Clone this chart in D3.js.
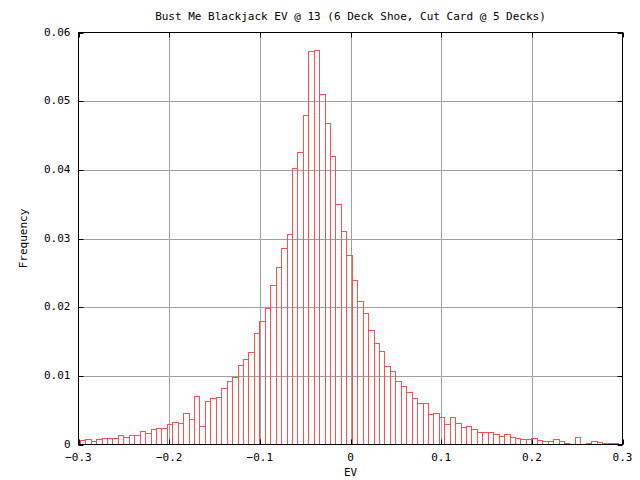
<!DOCTYPE html>
<html>
<head>
<meta charset="utf-8">
<script src="https://cdn.jsdelivr.net/npm/d3@7"></script>
<style>
  body { margin: 0; background: #fff; }
  text { font-family: "DejaVu Sans Mono", monospace; font-size: 11px; fill: #000; }
</style>
</head>
<body>
<svg></svg>
<script>
var width = 640;
var height = 480;

var margin = { left: 78.5, top: 32.5, right: 17.5, bottom: 35.5 };

var title = "Bust Me Blackjack EV @ 13 (6 Deck Shoe, Cut Card @ 5 Decks)";
var xLabel = "EV";
var yLabel = "Frequency";

var xTicks = [-0.3, -0.2, -0.1, 0, 0.1, 0.2, 0.3];
var yTicks = [0, 0.01, 0.02, 0.03, 0.04, 0.05, 0.06];

// histogram bins: left edge of first bin and bin width
var binStart = -0.298;
var binWidth = 0.006;

// frequency per bin
var freq = [
  0.0006, 0.0007, 0.0004, 0.00067, 0.00087, 0.00087, 0.00087, 0.00125, 0.001, 0.0013,
  0.0013, 0.0019, 0.0016, 0.0022, 0.0023, 0.0023, 0.0029, 0.0032, 0.0031, 0.0045,
  0.0036, 0.0070, 0.0026, 0.0063, 0.0067, 0.0068, 0.00815, 0.0092, 0.00976, 0.0115,
  0.0124, 0.0134, 0.0162, 0.0179, 0.0198, 0.0231, 0.0258, 0.0285, 0.0306, 0.0402,
  0.0425, 0.0479, 0.0572, 0.0574, 0.0510, 0.0467, 0.0419, 0.0350, 0.0310, 0.0275,
  0.0239, 0.0208, 0.0191, 0.0166, 0.0147, 0.0135, 0.0114, 0.0106, 0.0092, 0.0085,
  0.0076, 0.0067, 0.0060, 0.0060, 0.0044, 0.0045, 0.0039, 0.0029, 0.0039, 0.0031,
  0.0025, 0.0026, 0.0022, 0.00175, 0.00175, 0.00175, 0.0015, 0.00117, 0.0015, 0.00102,
  0.00087, 0.00073, 0.00073, 0.00087, 0.00058, 0.00044, 0.00044, 0.00073, 0.00044, 0.0002,
  0, 0.00102, 0, 0.0002, 0.00044, 0.00035, 0.0002, 0.0002, 0.0002
];

var data = freq.map(function(f, i) {
  return { x0: binStart + i * binWidth, x1: binStart + (i + 1) * binWidth, f: f };
});

var svg = d3.select("svg")
  .attr("width", width)
  .attr("height", height);

var x = d3.scaleLinear()
  .domain([-0.3, 0.3])
  .range([margin.left, width - margin.right]);

var y = d3.scaleLinear()
  .domain([0, 0.06])
  .range([height - margin.bottom, margin.top]);

// grid
svg.append("g")
  .selectAll("line")
  .data(xTicks.slice(1, -1))
  .enter().append("line")
  .attr("x1", d => Math.round(x(d)) + 0.5).attr("x2", d => Math.round(x(d)) + 0.5)
  .attr("y1", y(0)).attr("y2", y(0.06))
  .attr("stroke", "#a0a0a0");

svg.append("g")
  .selectAll("line")
  .data(yTicks.slice(1, -1))
  .enter().append("line")
  .attr("y1", d => Math.round(y(d)) + 0.5).attr("y2", d => Math.round(y(d)) + 0.5)
  .attr("x1", x(-0.3)).attr("x2", x(0.3))
  .attr("stroke", "#a0a0a0");

// bars
svg.append("g")
  .selectAll("rect")
  .data(data.filter(d => d.f > 0))
  .enter().append("rect")
  .attr("x", d => x(d.x0))
  .attr("width", d => x(d.x1) - x(d.x0))
  .attr("y", d => y(d.f))
  .attr("height", d => y(0) - y(d.f))
  .attr("fill", "none")
  .attr("stroke", "#ff5050")
  .attr("shape-rendering", "crispEdges");

// frame
svg.append("rect")
  .attr("x", x(-0.3)).attr("y", y(0.06))
  .attr("width", x(0.3) - x(-0.3)).attr("height", y(0) - y(0.06))
  .attr("fill", "none").attr("stroke", "#000");

// tick marks (inside, mirrored)
var tickLen = 5;
var xt = svg.append("g").selectAll("g").data(xTicks).enter().append("g");
xt.append("line")
  .attr("x1", d => Math.round(x(d)) + 0.5).attr("x2", d => Math.round(x(d)) + 0.5)
  .attr("y1", y(0)).attr("y2", y(0) - tickLen).attr("stroke", "#000");
xt.append("line")
  .attr("x1", d => Math.round(x(d)) + 0.5).attr("x2", d => Math.round(x(d)) + 0.5)
  .attr("y1", y(0.06)).attr("y2", y(0.06) + tickLen).attr("stroke", "#000");
xt.append("text")
  .attr("x", d => x(d))
  .attr("y", y(0) + 16)
  .attr("text-anchor", "middle")
  .text(d => d3.format("")(d));

var yt = svg.append("g").selectAll("g").data(yTicks).enter().append("g");
yt.append("line")
  .attr("y1", d => Math.round(y(d)) + 0.5).attr("y2", d => Math.round(y(d)) + 0.5)
  .attr("x1", x(-0.3)).attr("x2", x(-0.3) + tickLen).attr("stroke", "#000");
yt.append("line")
  .attr("y1", d => Math.round(y(d)) + 0.5).attr("y2", d => Math.round(y(d)) + 0.5)
  .attr("x1", x(0.3)).attr("x2", x(0.3) - tickLen).attr("stroke", "#000");
yt.append("text")
  .attr("x", x(-0.3) - 8)
  .attr("y", d => y(d) + 3)
  .attr("text-anchor", "end")
  .text(d => d3.format("")(d));

// titles
svg.append("text")
  .attr("x", (x(-0.3) + x(0.3)) / 2)
  .attr("y", 20)
  .attr("text-anchor", "middle")
  .text(title);

svg.append("text")
  .attr("x", (x(-0.3) + x(0.3)) / 2)
  .attr("y", 476)
  .attr("text-anchor", "middle")
  .text(xLabel);

svg.append("text")
  .attr("transform", "translate(27," + ((y(0) + y(0.06)) / 2) + ") rotate(-90)")
  .attr("text-anchor", "middle")
  .text(yLabel);
</script>
</body>
</html>
